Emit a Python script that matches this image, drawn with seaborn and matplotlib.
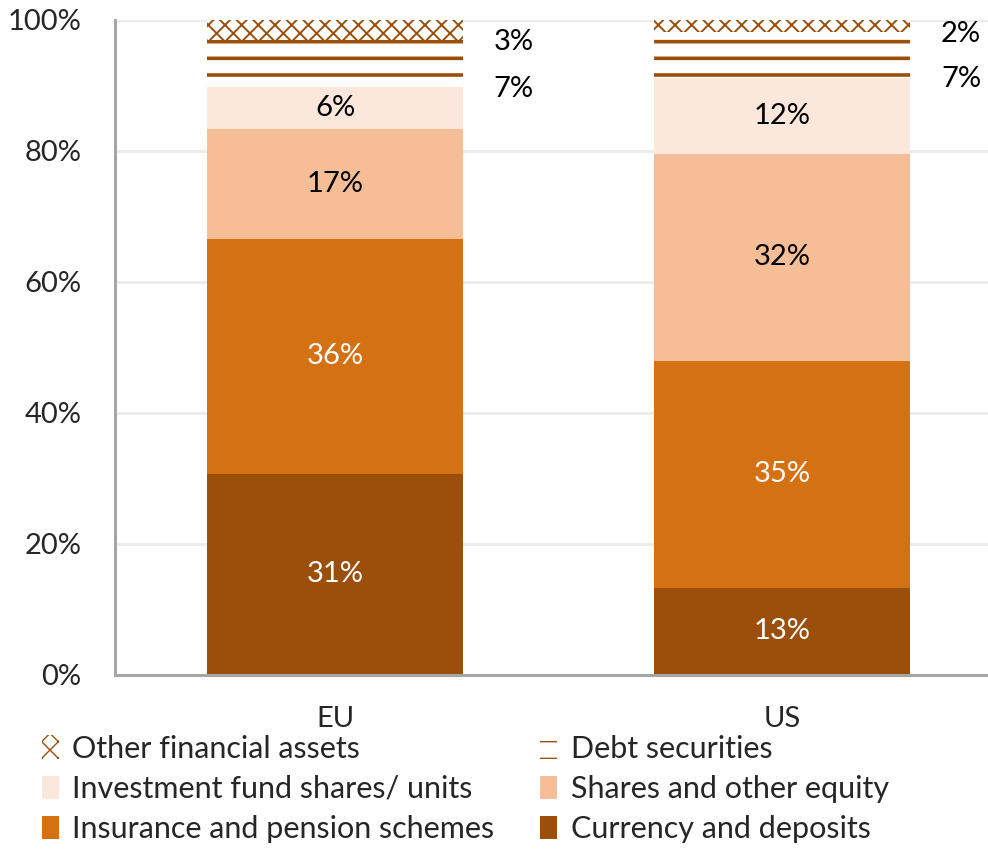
import matplotlib
matplotlib.use("Agg")
import matplotlib.pyplot as plt
from matplotlib.patches import Patch
import pandas as pd
import seaborn as sns

regions = ["EU", "US"]
components = ["Currency and deposits", "Insurance and pension schemes",
              "Shares and other equity", "Investment fund shares/ units",
              "Debt securities", "Other financial assets"]
eu_shares = [30.7, 35.9, 16.8, 6.4, 7.1, 3.1]
us_shares = [13.3, 34.7, 31.6, 11.6, 7.0, 1.8]
yticks = [0, 20, 40, 60, 80, 100]

brown = "#9C4F0A"
colors = ["#9C4F0A", "#D37113", "#F6BE96", "#FCE7DC", "white", "white"]
hatches = [None, None, None, None, "-", "xx"]
hatch_widths = [1, 1, 1, 1, 2.6, 1.4]
label_colors = ["white", "white", "black", "black", "black", "black"]

sns.set_style("white")
plt.rcParams["font.family"] = ["Lato", "DejaVu Sans"]
FS = 21

df = pd.DataFrame({"region": regions * len(components),
                   "component": [c for c in components for _ in regions],
                   "share": [v for pair in zip(eu_shares, us_shares) for v in pair]})
df["top"] = df.groupby("region")["share"].cumsum()
df["bottom"] = df["top"] - df["share"]

fig = plt.figure(figsize=(9.88, 8.49), dpi=100)
ax = fig.add_axes([0.1164, 0.205, 0.8836, 0.7716])

# stack by drawing cumulative bars, tallest first
for comp, col, h, hw in reversed(list(zip(components, colors, hatches, hatch_widths))):
    sub = df[df["component"] == comp]
    with plt.rc_context({"hatch.linewidth": hw}):
        sns.barplot(data=sub, x="region", y="top", order=regions, color=col,
                    saturation=1, width=0.573, hatch=h, edgecolor=brown if h else col,
                    linewidth=0, ax=ax, zorder=2)

# labels
for i, reg in enumerate(regions):
    sub = df[df["region"] == reg].reset_index(drop=True)
    for k, row in sub.iterrows():
        txt = f"{row['share']:.0f}%"
        if k < 4:
            ax.text(i, (row["bottom"] + row["top"]) / 2, txt, ha="center", va="center",
                    fontsize=FS, color=label_colors[k], zorder=3)
        else:
            ax.text(i + 0.40, row["bottom"] - 0.3, txt, ha="center", va="center",
                    fontsize=FS, color="black", zorder=3)

ax.set_ylim(0, 100)
ax.set_xlim(-0.492, 1.46)
ax.set_yticks(yticks)
ax.set_yticklabels([f"{t}%" for t in yticks], fontsize=FS)
ax.tick_params(axis="y", length=0, pad=24)
ax.tick_params(axis="x", length=0, pad=22, labelsize=FS)
ax.set_xlabel("")
ax.set_ylabel("")
ax.yaxis.grid(True, color="#EBEBEB", linewidth=2, zorder=0)
ax.set_axisbelow(True)
for s in ["top", "right"]:
    ax.spines[s].set_visible(False)
for s in ["left", "bottom"]:
    ax.spines[s].set_color("#A6A6A6")
    ax.spines[s].set_linewidth(2.2)

with plt.rc_context({"hatch.linewidth": 1.4}):
    handles = [Patch(facecolor=c, edgecolor=brown if h else c, hatch=h, linewidth=0)
               for c, h in zip(colors, hatches)]
# legend order: column-major fill, rows (Other, Debt), (Inv fund, Shares), (Insurance, Currency)
order = [5, 3, 1, 4, 2, 0]
fig.legend([handles[i] for i in order], [components[i] for i in order],
           ncol=2, loc="upper left", bbox_to_anchor=(0.03, 0.149), frameon=False,
           fontsize=FS + 1, handlelength=0.55, handleheight=0.8, handletextpad=0.45,
           columnspacing=1.5, labelspacing=0.4, borderaxespad=0)

fig.savefig("out.png", dpi=100)
